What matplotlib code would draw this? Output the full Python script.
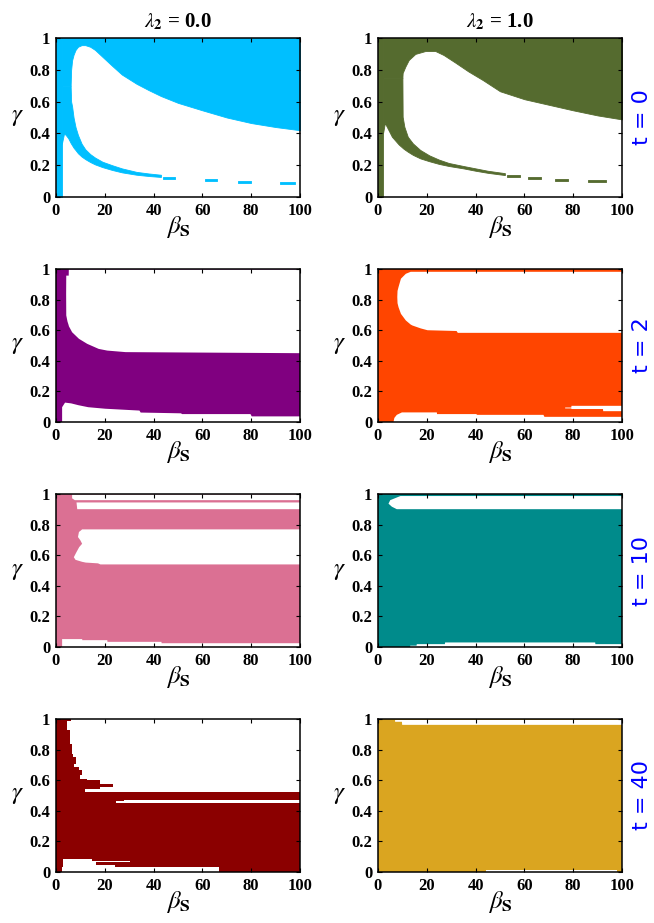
import numpy as np
import matplotlib.pyplot as plt

plt.rcParams['font.family'] = 'Liberation Serif'
plt.rcParams['mathtext.fontset'] = 'stix'

# ---------------- data ----------------
# t = 0, lambda2 = 0.0  (coloured regions on white)
t0a_strip = 2.4
t0a_band_beta = [2.4, 3.3, 4.0, 5.0, 6.0, 6.2, 6.6, 7.2, 8.0, 9.0, 10.5, 12, 14, 16, 19, 23, 27, 33, 38, 43]
t0a_band_lo = [0.335, 0.40, 0.39, 0.37, 0.34, 0.335, 0.325, 0.31, 0.295, 0.275, 0.254, 0.238, 0.22, 0.205,
               0.188, 0.17, 0.155, 0.14, 0.132, 0.126]
t0a_band_hi = [0.70, 0.70, 0.70, 0.70, 0.70, 0.60, 0.57, 0.50, 0.44, 0.39, 0.335, 0.30, 0.27, 0.248,
               0.222, 0.20, 0.18, 0.158, 0.148, 0.14]
t0a_top_beta = [2.4, 6.0, 6.2, 6.6, 7.2, 8, 9, 10.5, 12, 14, 16, 19, 23, 27, 33, 38, 43, 50, 60, 70, 80, 90, 100]
t0a_top_lo = [0.70, 0.70, 0.80, 0.86, 0.895, 0.925, 0.945, 0.955, 0.955, 0.945, 0.925, 0.882, 0.825, 0.77,
              0.712, 0.672, 0.635, 0.592, 0.545, 0.50, 0.465, 0.44, 0.42]
t0a_dash_start = [44, 61, 74.5, 92]
t0a_dash_end = [48.8, 66, 80, 98]
t0a_dash_gamma = [0.12, 0.105, 0.095, 0.088]

# t = 0, lambda2 = 1.0
t0b_strip = 2.05
t0b_band_beta = [2.05, 2.8, 3.5, 5.7, 8.5, 10.0, 10.1, 10.8, 12.2, 14.3, 17.3, 21, 25, 29, 35, 40, 45, 52]
t0b_band_lo = [0.40, 0.465, 0.445, 0.379, 0.33, 0.31, 0.308, 0.30, 0.285, 0.265, 0.243, 0.225, 0.208,
               0.195, 0.18, 0.165, 0.152, 0.138]
t0b_band_hi = [0.75, 0.75, 0.75, 0.75, 0.75, 0.75, 0.505, 0.442, 0.379, 0.337, 0.296, 0.262, 0.235,
               0.214, 0.195, 0.18, 0.165, 0.15]
t0b_top_beta = [2.05, 10.0, 10.1, 11.2, 12.6, 15.3, 19.4, 23.5, 26.9, 31.7, 37, 43, 50, 60, 70, 80, 90, 100]
t0b_top_lo = [0.75, 0.75, 0.78, 0.82, 0.862, 0.90, 0.918, 0.918, 0.893, 0.845, 0.79, 0.735, 0.665, 0.615,
              0.58, 0.545, 0.513, 0.488]
t0b_dash_start = [53, 61.5, 72.4, 86]
t0b_dash_end = [58, 67, 78, 93.3]
t0b_dash_gamma = [0.133, 0.12, 0.107, 0.10]

# t = 2, lambda2 = 0.0  (white regions on colour)
t2a_top_beta = [3.95, 4.0, 4.5, 5.0, 5.05, 6.4, 9.2, 12.6, 17.3, 20.8, 28.3, 100]
t2a_top_lo = [0.84, 0.70, 0.66, 0.635, 0.63, 0.59, 0.547, 0.514, 0.481, 0.47, 0.46, 0.453]
t2a_top_hi = [0.84, 0.96, 0.96, 0.96, 1.0, 1.0, 1.0, 1.0, 1.0, 1.0, 1.0, 1.0]
t2a_bot_beta = [2.3, 3.5, 6, 9, 13, 20, 34, 34.5, 51, 51.5, 79.5, 80, 100]
t2a_bot_hi = [0.10, 0.13, 0.125, 0.113, 0.10, 0.09, 0.078, 0.065, 0.06, 0.055, 0.055, 0.04, 0.04]

# t = 2, lambda2 = 1.0
t2b_top_beta = [7.7, 7.8, 8.2, 9.2, 11.2, 13.2, 13.9, 17.3, 20.1, 32, 32.5, 100]
t2b_top_lo = [0.82, 0.78, 0.754, 0.71, 0.667, 0.64, 0.634, 0.615, 0.603, 0.598, 0.586, 0.586]
t2b_top_hi = [0.82, 0.86, 0.885, 0.94, 0.972, 0.985, 0.985, 0.985, 0.985, 0.985, 0.985, 0.985]
t2b_bot_beta = [6.1, 6.5, 7.5, 9.6, 23.9, 24, 40, 40.5, 67.6, 68, 100]
t2b_bot_hi = [0.0, 0.03, 0.05, 0.066, 0.066, 0.055, 0.055, 0.05, 0.05, 0.037, 0.037]
t2b_sliver_beta = [76.5, 79, 79.1, 92, 92.1, 100]
t2b_sliver_lo = [0.092, 0.092, 0.088, 0.088, 0.074, 0.074]
t2b_sliver_hi = [0.098, 0.098, 0.109, 0.109, 0.109, 0.109]

# t = 10, lambda2 = 0.0
t10a_holeA_gamma = [0.963, 0.975, 1.0]
t10a_holeA_left = [7.5, 6.4, 6.4]
t10a_holeB_gamma = [0.904, 0.948]
t10a_holeB_left = [8.5, 8.2]
t10a_mid_gamma = [0.543, 0.55, 0.555, 0.56, 0.573, 0.59, 0.624, 0.656, 0.678, 0.70, 0.722, 0.755, 0.765, 0.772]
t10a_mid_left = [18, 17, 12, 10.5, 7.8, 7.1, 8.2, 9.3, 10.5, 9.8, 8.8, 9.2, 10, 10.5]
t10a_bot_beta = [2.3, 10.5, 10.6, 20.8, 20.9, 43, 43.1, 100]
t10a_bot_hi = [0.055, 0.055, 0.048, 0.048, 0.037, 0.037, 0.028, 0.028]

# t = 10, lambda2 = 1.0
t10b_top_gamma = [0.904, 0.92, 0.94, 0.963, 0.985, 0.99]
t10b_top_left = [7.5, 5.5, 4.1, 4.8, 8.2, 9.0]
t10b_bot_beta = [13, 15.6, 15.7, 27.2, 27.3, 88.8, 88.9, 100]
t10b_bot_hi = [0.012, 0.012, 0.022, 0.022, 0.033, 0.033, 0.022, 0.022]

# t = 40, lambda2 = 0.0
t40a_top_gamma = [0.525, 0.54, 0.556, 0.577, 0.60, 0.61, 0.632, 0.665, 0.686, 0.708, 0.752, 0.773, 0.839,
                  0.926, 0.985, 1.0]
t40a_top_left = [12, 18, 23.5, 18, 12.6, 9.8, 10.5, 9.4, 7.4, 8.2, 6.8, 6.4, 5.7, 4.6, 6.0, 6.0]
t40a_line_gamma = [0.453, 0.462, 0.47]
t40a_line_left = [24.6, 27.9, 27.9]
t40a_bot_gamma = [0.0, 0.033, 0.048, 0.066, 0.073, 0.085]
t40a_bot_left = [2.3, 2.7, 2.7, 2.7, 2.7, 2.7]
t40a_bot_right = [67, 24.2, 16.5, 30.3, 14.6, 14.6]

# t = 40, lambda2 = 1.0
t40b_top_beta = [6.8, 9.6, 9.7, 100]
t40b_top_lo = [0.985, 0.985, 0.965, 0.965]
t40b_bot_beta = [44.4, 98]

colors = [['#00BFFF', '#556B2F'], ['#800080', '#FF4500'],
          ['#DB7093', '#008B8B'], ['#8B0000', '#DAA520']]
row_titles = ['t = 0', 't = 2', 't = 10', 't = 40']
col_titles = [r'$\lambda_{\mathbf{2}}$ = 0.0', r'$\lambda_{\mathbf{2}}$ = 1.0']

# ---------------- figure ----------------
W, H = 654, 923
fig = plt.figure(figsize=(W / 100, H / 100), dpi=100)
row_px = [(38, 197), (269, 422), (494, 647), (719, 872)]
col_px = [56, 378]

axes = []
for r in range(4):
    line = []
    for c in range(2):
        top, bot = row_px[r]
        ax = fig.add_axes([col_px[c] / W, 1 - bot / H, 244 / W, (bot - top) / H])
        line.append(ax)
    axes.append(line)

wkw = dict(linewidth=0)


def ckw(col):
    # same-colour edge hides seams between touching pieces
    return dict(color=col, edgecolor=col, linewidth=0.6)


# t = 0
ax = axes[0][0]
col = colors[0][0]
ax.fill_between([0, t0a_strip], 0, 1, **ckw(col))
ax.fill_between(t0a_band_beta, t0a_band_lo, t0a_band_hi, **ckw(col))
ax.fill_between(t0a_top_beta, t0a_top_lo, 1, **ckw(col))
for s, e, g in zip(t0a_dash_start, t0a_dash_end, t0a_dash_gamma):
    ax.fill_between([s, e], g - 0.007, g + 0.007, **ckw(col))

ax = axes[0][1]
col = colors[0][1]
ax.fill_between([0, t0b_strip], 0, 1, **ckw(col))
ax.fill_between(t0b_band_beta, t0b_band_lo, t0b_band_hi, **ckw(col))
ax.fill_between(t0b_top_beta, t0b_top_lo, 1, **ckw(col))
for s, e, g in zip(t0b_dash_start, t0b_dash_end, t0b_dash_gamma):
    ax.fill_between([s, e], g - 0.007, g + 0.007, **ckw(col))

# t = 2
ax = axes[1][0]
ax.fill_between([0, 100], 0, 1, color=colors[1][0], **wkw)
ax.fill_between(t2a_top_beta, t2a_top_lo, t2a_top_hi, color='white', **wkw)
ax.fill_between(t2a_bot_beta, 0, t2a_bot_hi, color='white', **wkw)

ax = axes[1][1]
ax.fill_between([0, 100], 0, 1, color=colors[1][1], **wkw)
ax.fill_between(t2b_top_beta, t2b_top_lo, t2b_top_hi, color='white', **wkw)
ax.fill_between(t2b_bot_beta, 0, t2b_bot_hi, color='white', **wkw)
ax.fill_between(t2b_sliver_beta, t2b_sliver_lo, t2b_sliver_hi, color='white', **wkw)

# t = 10
ax = axes[2][0]
ax.fill_between([0, 100], 0, 1, color=colors[2][0], **wkw)
ax.fill_betweenx(t10a_holeA_gamma, t10a_holeA_left, 100, color='white', **wkw)
ax.fill_betweenx(t10a_holeB_gamma, t10a_holeB_left, 100, color='white', **wkw)
ax.fill_betweenx(t10a_mid_gamma, t10a_mid_left, 100, color='white', **wkw)
ax.fill_between(t10a_bot_beta, 0, t10a_bot_hi, color='white', **wkw)

ax = axes[2][1]
ax.fill_between([0, 100], 0, 1, color=colors[2][1], **wkw)
ax.fill_betweenx(t10b_top_gamma, t10b_top_left, 100, color='white', **wkw)
ax.fill_between(t10b_bot_beta, 0, t10b_bot_hi, color='white', **wkw)

# t = 40
ax = axes[3][0]
ax.fill_between([0, 100], 0, 1, color=colors[3][0], **wkw)
ax.fill_betweenx(t40a_top_gamma, t40a_top_left, 100, step='post', color='white', **wkw)
ax.fill_betweenx(t40a_line_gamma, t40a_line_left, 100, step='post', color='white', **wkw)
ax.fill_betweenx(t40a_bot_gamma, t40a_bot_left, t40a_bot_right, step='post', color='white', **wkw)

ax = axes[3][1]
ax.fill_between([0, 100], 0, 1, color=colors[3][1], **wkw)
ax.fill_between(t40b_top_beta, t40b_top_lo, 0.997, color='white', **wkw)
ax.fill_between(t40b_bot_beta, 0.003, 0.01, color='white', **wkw)

# ---------------- styling ----------------
for r in range(4):
    for c in range(2):
        ax = axes[r][c]
        ax.set_xlim(0, 100)
        ax.set_ylim(0, 1)
        ax.set_xticks([0, 20, 40, 60, 80, 100])
        ax.set_yticks([0, 0.2, 0.4, 0.6, 0.8, 1.0])
        ax.set_yticklabels(['0', '0.2', '0.4', '0.6', '0.8', '1'])
        ax.tick_params(direction='in', top=True, right=True, length=3, width=0.8,
                       labelsize=12, pad=4)
        for lab in ax.get_xticklabels() + ax.get_yticklabels():
            lab.set_fontweight('bold')
        for sp in ax.spines.values():
            sp.set_linewidth(1.1)
            sp.set_zorder(5)
        ax.set_ylabel(r'$\gamma$', rotation=0, fontsize=18, labelpad=9, va='center')
        ax.set_xlabel(r'$\beta_{\mathbf{S}}$', fontsize=18, labelpad=-3)
        if r == 0:
            ax.set_title(col_titles[c], fontsize=15, fontweight='bold', pad=8)
    top, bot = row_px[r]
    fig.text(642 / W, 1 - (top + bot) / 2 / H, row_titles[r], rotation=90, color='blue',
             fontsize=16, family='DejaVu Sans', ha='center', va='center')

fig.savefig('out.png', dpi=100)
